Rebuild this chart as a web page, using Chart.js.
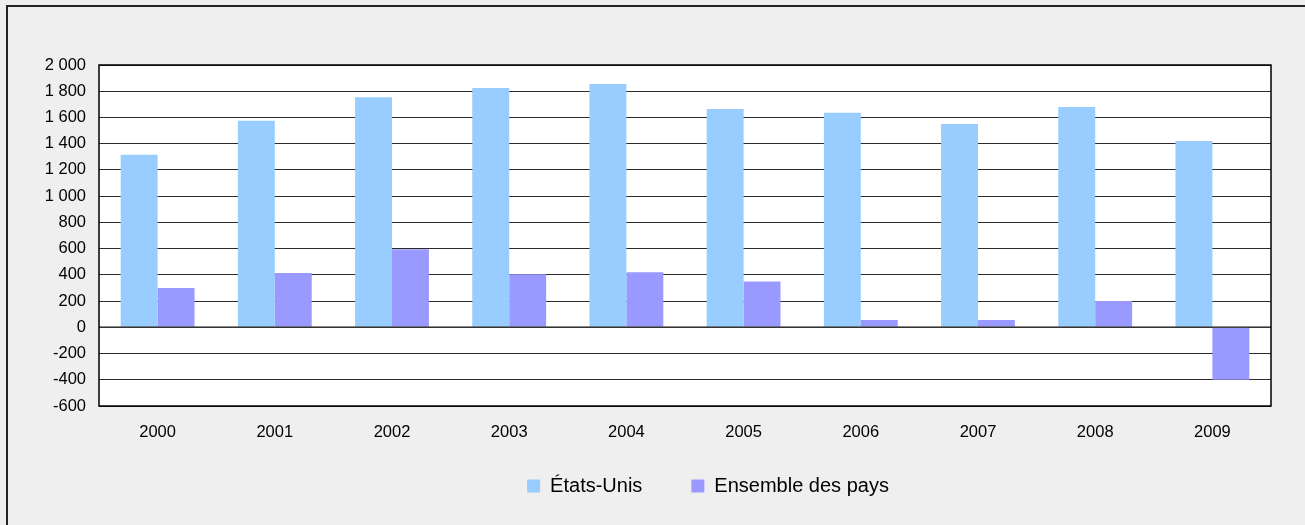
<!DOCTYPE html>
<html>
<head>
<meta charset="utf-8">
<script src="https://cdn.jsdelivr.net/npm/chart.js@4/dist/chart.umd.min.js"></script>
<style>
  body { margin: 0; background: #efefef; }
  canvas { display: block; }
</style>
</head>
<body>
<canvas id="myBarChart" width="1305" height="525"></canvas>
<script>
var years = ['2000', '2001', '2002', '2003', '2004', '2005', '2006', '2007', '2008', '2009'];
var etatsUnis = [1315, 1575, 1755, 1825, 1855, 1665, 1635, 1550, 1680, 1420];
var ensemble = [300, 415, 595, 405, 420, 350, 55, 55, 200, -400];
var yMin = -600;
var yMax = 2000;
var yStep = 200;

function spaceThousands(v) {
  return String(v).replace(/\B(?=(\d{3})+(?!\d))/g, ' ');
}

// background, frame, plot area and zero line
var decor = {
  id: 'decor',
  beforeDraw: function (chart) {
    var c = chart.ctx, a = chart.chartArea;
    c.save();
    c.fillStyle = '#efefef';
    c.fillRect(0, 0, chart.width, chart.height);
    c.strokeStyle = '#222';
    c.lineWidth = 2;
    c.strokeRect(7, 6, chart.width + 100, chart.height + 100);
    c.fillStyle = '#fff';
    c.fillRect(a.left, a.top, a.right - a.left, a.bottom - a.top);
    c.restore();
  },
  afterDatasetsDraw: function (chart) {
    var c = chart.ctx, a = chart.chartArea;
    var y0 = Math.round(chart.scales.y.getPixelForValue(0));
    c.save();
    c.strokeStyle = 'rgba(60,60,60,0.6)';
    c.lineWidth = 2;
    c.beginPath();
    c.moveTo(a.left, y0);
    c.lineTo(a.right, y0);
    c.stroke();
    c.strokeStyle = '#000';
    c.lineWidth = 1.5;
    c.strokeRect(a.left, a.top, a.right - a.left, a.bottom - a.top);
    c.restore();
  },
  afterLayout: function (chart) {
    var lg = chart.legend;
    var dx = 708 - (lg.left + lg.right) / 2;
    lg.left += dx;
    lg.right += dx;
    var h = lg.bottom - lg.top;
    lg.top = 427;
    lg.bottom = lg.top + h;
  }
};

var ctx = document.getElementById('myBarChart');
var myBarChart = new Chart(ctx, {
  type: 'bar',
  data: {
    labels: years,
    datasets: [{
      label: 'États-Unis',
      data: etatsUnis,
      backgroundColor: '#99ccff',
      borderWidth: 0,
      barPercentage: 1,
      categoryPercentage: 0.63
    }, {
      label: 'Ensemble des pays',
      data: ensemble,
      backgroundColor: '#9999ff',
      borderWidth: 0,
      barPercentage: 1,
      categoryPercentage: 0.63
    }]
  },
  options: {
    responsive: false,
    animation: false,
    layout: { padding: { left: 0, top: 65, right: 34, bottom: 0 } },
    font: { family: "'Liberation Sans', Arial, sans-serif" },
    scales: {
      x: {
        grid: { display: false, drawTicks: false },
        border: { display: false },
        ticks: {
          color: '#000',
          padding: 17,
          font: { size: 16.5, family: "'Liberation Sans', Arial, sans-serif" }
        },
        afterFit: function (scale) { scale.height = 40; }
      },
      y: {
        min: yMin,
        max: yMax,
        grid: { color: '#2a2a2a', lineWidth: 1, drawTicks: false },
        border: { display: false },
        ticks: {
          stepSize: yStep,
          color: '#000',
          padding: 13,
          font: { size: 16.5, family: "'Liberation Sans', Arial, sans-serif" },
          callback: function (v) { return spaceThousands(v); }
        },
        afterFit: function (scale) { scale.width = 99; }
      }
    },
    plugins: {
      tooltip: { enabled: false },
      legend: {
        position: 'bottom',
        labels: {
          boxWidth: 13,
          boxHeight: 13,
          padding: 49,
          color: '#000',
          font: { size: 20, family: "'Liberation Sans', Arial, sans-serif" }
        }
      }
    }
  },
  plugins: [decor]
});
</script>
</body>
</html>
